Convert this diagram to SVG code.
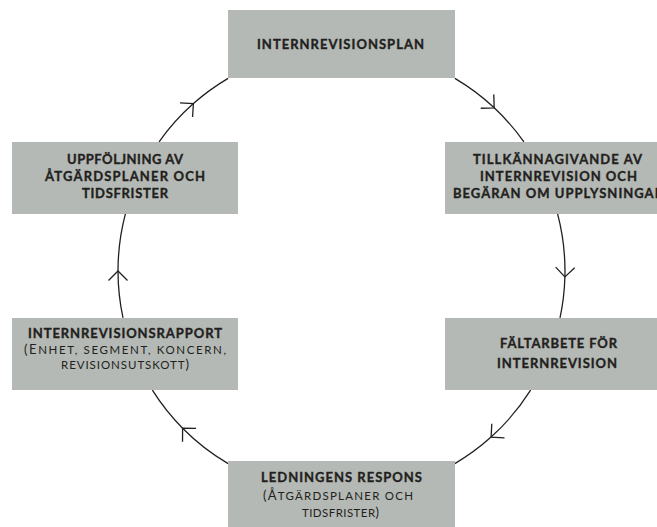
<svg xmlns="http://www.w3.org/2000/svg" width="657" height="527" viewBox="0 0 657 527">
<style>
.box{fill:#b4b9b5}
.b{font-family:Lato,"Liberation Sans",sans-serif;font-weight:700;font-size:13px;fill:#231f20;stroke:#231f20;stroke-width:0.35}
.r{font-family:Lato,"Liberation Sans",sans-serif;font-weight:400;font-size:13px;fill:#231f20}
.sm{font-size:11.5px}
.arc{fill:none;stroke:#231f20;stroke-width:1.3;marker-mid:url(#chev)}
</style>
<defs>
<marker id="chev" markerUnits="userSpaceOnUse" markerWidth="30" markerHeight="30" viewBox="-15 -15 30 30" refX="0" refY="0" orient="auto" overflow="visible">
<path d="M-9.5,-9.5 L0,0 L-9.5,9.5" fill="none" stroke="#231f20" stroke-width="1.3"/>
</marker>
</defs>
<rect width="657" height="527" fill="#ffffff"/>
<g id="connectors">
<path class="arc" d="M454.9,78.4 A223.5,223.5 0 0 1 494.2,107.8 A223.5,223.5 0 0 1 523.9,141.8"/>
<path class="arc" d="M557.6,213.9 A223.5,223.5 0 0 1 564.9,276.9 A223.5,223.5 0 0 1 560.0,317.8"/>
<path class="arc" d="M530.6,390.1 A223.5,223.5 0 0 1 491.1,437.1 A223.5,223.5 0 0 1 454.9,463.6"/>
<path class="arc" d="M228.1,463.6 A223.5,223.5 0 0 1 182.6,428.2 A223.5,223.5 0 0 1 152.4,390.1"/>
<path class="arc" d="M123.0,317.8 A223.5,223.5 0 0 1 118.0,271 A223.5,223.5 0 0 1 125.4,213.9"/>
<path class="arc" d="M159.1,141.8 A223.5,223.5 0 0 1 193.4,103.6 A223.5,223.5 0 0 1 228.1,78.4"/>
</g>
<g id="plan">
<rect class="box" x="228" y="10" width="227" height="68"/>
<text class="b" x="257" y="49.3" font-size="14" textLength="167" lengthAdjust="spacing">INTERNREVISIONSPLAN</text>
</g>
<g id="tillkannagivande">
<rect class="box" x="445" y="142" width="227" height="72"/>
<text class="b" x="473" y="164.3" textLength="169" lengthAdjust="spacing">TILLKÄNNAGIVANDE AV</text>
<text class="b" x="480" y="181" textLength="157" lengthAdjust="spacing">INTERNREVISION OCH</text>
<text class="b" x="453" y="197.7" textLength="210" lengthAdjust="spacing">BEGÄRAN OM UPPLYSNINGAR</text>
</g>
<g id="faltarbete">
<rect class="box" x="445" y="318" width="227" height="72"/>
<text class="b" x="500" y="348.3" textLength="117" lengthAdjust="spacing">FÄLTARBETE FÖR</text>
<text class="b" x="497" y="368.3" textLength="120" lengthAdjust="spacing">INTERNREVISION</text>
</g>
<g id="respons">
<rect class="box" x="228" y="461" width="227" height="66"/>
<text class="b" x="261" y="481.7" textLength="161" lengthAdjust="spacing">LEDNINGENS RESPONS</text>
<text class="r" x="263" y="500" textLength="150" lengthAdjust="spacing">(Å<tspan class="sm">TGÄRDSPLANER OCH</tspan></text>
<text class="r" x="302" y="516.7" textLength="77" lengthAdjust="spacing"><tspan class="sm">TIDSFRISTER</tspan>)</text>
</g>
<g id="rapport">
<rect class="box" x="12" y="318" width="226" height="72"/>
<text class="b" x="28" y="338.3" textLength="194" lengthAdjust="spacing">INTERNREVISIONSRAPPORT</text>
<text class="r" x="24" y="354" textLength="202" lengthAdjust="spacing">(E<tspan class="sm">NHET, SEGMENT, KONCERN,</tspan></text>
<text class="r" x="61" y="369" textLength="128" lengthAdjust="spacing"><tspan class="sm">REVISIONSUTSKOTT</tspan>)</text>
</g>
<g id="uppfoljning">
<rect class="box" x="12" y="142" width="226" height="72"/>
<text class="b" x="67" y="164.3" textLength="116" lengthAdjust="spacing">UPPFÖLJNING AV</text>
<text class="b" x="45" y="181" textLength="160" lengthAdjust="spacing">ÅTGÄRDSPLANER OCH</text>
<text class="b" x="82" y="197.7" textLength="86" lengthAdjust="spacing">TIDSFRISTER</text>
</g>
</svg>
